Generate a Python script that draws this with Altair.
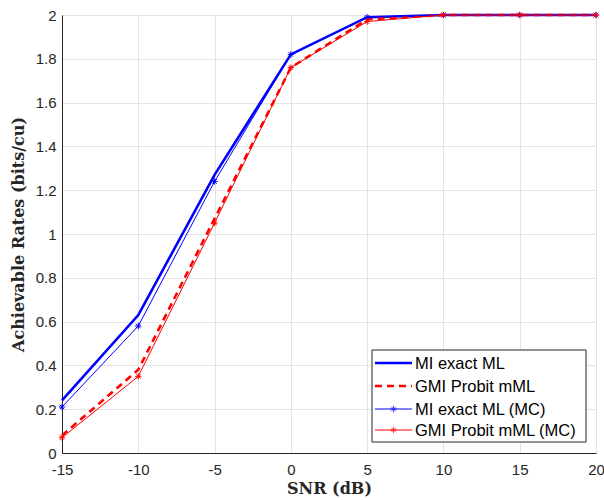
import altair as alt
import pandas as pd

snr = [-15, -10, -5, 0, 5, 10, 15, 20]
mi_exact = [0.24, 0.63, 1.27, 1.82, 1.99, 2.0, 2.0, 2.0]
gmi_probit = [0.08, 0.38, 1.07, 1.76, 1.98, 2.0, 2.0, 2.0]
mi_mc = [0.21, 0.58, 1.24, 1.82, 1.99, 2.0, 2.0, 2.0]
gmi_mc = [0.07, 0.35, 1.05, 1.76, 1.97, 2.0, 2.0, 2.0]

legend_labels = ["MI exact ML", "GMI Probit mML", "MI exact ML (MC)", "GMI Probit mML (MC)"]

BLUE = "#0000ff"
RED = "#ff0000"
STAR = "M0,-1L0,1M-1,0L1,0M-0.7,-0.7L0.7,0.7M-0.7,0.7L0.7,-0.7"

W, H = 534, 438

xs = alt.Scale(domain=[-15, 20], nice=False, zero=False)
ys = alt.Scale(domain=[0, 2], nice=False)

def df(vals):
    return pd.DataFrame({"snr": snr, "rate": vals})

xenc = alt.X("snr:Q", scale=xs,
             axis=alt.Axis(values=list(range(-15, 21, 5)), title="SNR (dB)",
                           labelExpr="toString(datum.value)", labelFlush=False,
                           labelPadding=9, titlePadding=3))
yenc = alt.Y("rate:Q", scale=ys,
             axis=alt.Axis(values=[round(i * 0.2, 1) for i in range(11)], format="~g",
                           labelFlush=False,
                           title="Achievable Rates (bits/cu)", titlePadding=9))

l1 = alt.Chart(df(mi_exact)).mark_line(color=BLUE, strokeWidth=2.6).encode(x=xenc, y=yenc)
l2 = alt.Chart(df(gmi_probit)).mark_line(color=RED, strokeWidth=2.6, strokeDash=[7, 5]).encode(x=xenc, y=yenc)
l3 = alt.Chart(df(mi_mc)).mark_line(color=BLUE, strokeWidth=1, point=alt.OverlayMarkDef(
    shape=STAR, size=40, filled=False, stroke=BLUE, strokeWidth=1)).encode(x=xenc, y=yenc)
l4 = alt.Chart(df(gmi_mc)).mark_line(color=RED, strokeWidth=1, point=alt.OverlayMarkDef(
    shape=STAR, size=40, filled=False, stroke=RED, strokeWidth=1)).encode(x=xenc, y=yenc)

one = pd.DataFrame({"a": [0]})
bx0, bx1, by0, by1 = 310, 524, 335, 427
rows = [348, 371, 394, 415]
lx0, lx1, tx = 313, 350, 353

box = alt.Chart(one).mark_rect(fill="white", stroke="#262626", strokeWidth=1).encode(
    x=alt.value(bx0), x2=alt.value(bx1), y=alt.value(by0), y2=alt.value(by1))

leg_layers = [box]
styles = [
    dict(color=BLUE, strokeWidth=2.6),
    dict(color=RED, strokeWidth=2.6, strokeDash=[7, 5]),
    dict(color=BLUE, strokeWidth=1),
    dict(color=RED, strokeWidth=1),
]
for i, (lab, st, ry) in enumerate(zip(legend_labels, styles, rows)):
    leg_layers.append(alt.Chart(one).mark_rule(**st).encode(
        x=alt.value(lx0), x2=alt.value(lx1), y=alt.value(ry)))
    if i >= 2:
        leg_layers.append(alt.Chart(one).mark_point(
            shape=STAR, size=40, filled=False, stroke=st["color"], strokeWidth=1).encode(
            x=alt.value((lx0 + lx1) / 2), y=alt.value(ry)))
    leg_layers.append(alt.Chart(one).mark_text(
        text=lab, align="left", baseline="middle", font="Liberation Sans", fontSize=16.5,
        color="black").encode(x=alt.value(tx), y=alt.value(ry + 1)))

chart = alt.layer(l1, l2, l3, l4, *leg_layers).properties(
    width=W, height=H,
    autosize=alt.AutoSizeParams(type="none"),
    padding={"left": 62, "top": 15, "right": 8, "bottom": 47},
).configure_view(stroke="#262626", strokeWidth=1).configure_axis(
    labelFont="Liberation Sans", labelFontSize=15, labelColor="#262626",
    titleFont="DejaVu Serif", titleFontSize=16, titleFontWeight="bold", titleColor="#262626",
    domainColor="#262626", tickColor="#262626", tickSize=0, labelPadding=6,
    gridColor="#e3e3e3", gridWidth=1,
)

chart.save("out.html", embed_options={"renderer": "svg", "actions": False})
